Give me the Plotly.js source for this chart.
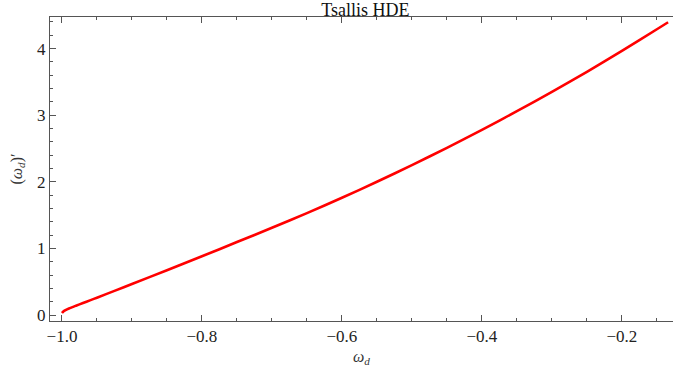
<!DOCTYPE html>
<html>
<head>
<meta charset="utf-8">
<script src="https://cdn.plot.ly/plotly-3.0.1.min.js"></script>
<style>html,body{margin:0;padding:0;background:#fff;}#chart{width:673px;height:367px;}</style>
</head>
<body>
<div id="chart"></div>
<script>
const omegaD = [-1.0, -0.998, -0.995, -0.99, -0.98, -0.97, -0.96, -0.95, -0.925, -0.9, -0.85, -0.8, -0.75, -0.7, -0.65, -0.6, -0.55, -0.5, -0.45, -0.4, -0.35, -0.3, -0.25, -0.2, -0.15, -0.134];
const omegaDPrime = [0.03, 0.052, 0.072, 0.098, 0.14, 0.18, 0.22, 0.26, 0.362, 0.465, 0.672, 0.882, 1.095, 1.31, 1.53, 1.76, 2.0, 2.25, 2.51, 2.78, 3.06, 3.35, 3.65, 3.965, 4.29, 4.395];
const xTicks = [-1.0, -0.8, -0.6, -0.4, -0.2];
const xTickText = ["\u22121.0", "\u22120.8", "\u22120.6", "\u22120.4", "\u22120.2"];
const yTicks = [0, 1, 2, 3, 4];
const yTickText = ["0", "1", "2", "3", "4"];

const fam = "Liberation Serif";
const tickFont = {family: fam, size: 17, color: "#222"};
const trace = {x: omegaD, y: omegaDPrime, mode: "lines", line: {color: "#ff0000", width: 2.6, shape: "spline", smoothing: 0.7}, hoverinfo: "none"};
const layout = {
  width: 673, height: 367,
  margin: {l: 50, r: 0, t: 17, b: 46},
  paper_bgcolor: "#fff", plot_bgcolor: "#fff",
  showlegend: false,
  font: {family: fam, size: 17, color: "#222"},
  title: {text: "Tsallis HDE", font: {family: fam, size: 18, color: "#111"}, x: 0.543, xanchor: "center", yref: "container", y: 0.992, yanchor: "top", pad: {t: 0}},
  xaxis: {
    range: [-1.0171, -0.127], showgrid: false, zeroline: false,
    showline: true, linecolor: "#555", linewidth: 1, mirror: "allticks",
    ticks: "inside", ticklen: 6, tickcolor: "#555", tickwidth: 1,
    tickvals: xTicks, ticktext: xTickText, tickfont: tickFont,
    minor: {ticks: "inside", dtick: 0.05, tick0: -1, ticklen: 3, tickcolor: "#555", showgrid: false},
    title: {text: "<i>ω<sub>d</sub></i>", font: {family: fam, size: 16, color: "#333"}, standoff: 6}
  },
  yaxis: {
    range: [-0.09, 4.474], showgrid: false, zeroline: false,
    showline: true, linecolor: "#555", linewidth: 1, mirror: false,
    ticks: "inside", ticklen: 6, tickcolor: "#555", tickwidth: 1,
    tickvals: yTicks, ticktext: yTickText, tickfont: tickFont,
    minor: {ticks: "inside", dtick: 0.2, tick0: 0, ticklen: 3, tickcolor: "#555", showgrid: false},
    title: {text: "(<i>ω<sub>d</sub></i>)′", font: {family: fam, size: 16, color: "#333"}, standoff: 10}
  }
};
Plotly.newPlot("chart", [trace], layout, {staticPlot: true, displayModeBar: false});
</script>
</body>
</html>
